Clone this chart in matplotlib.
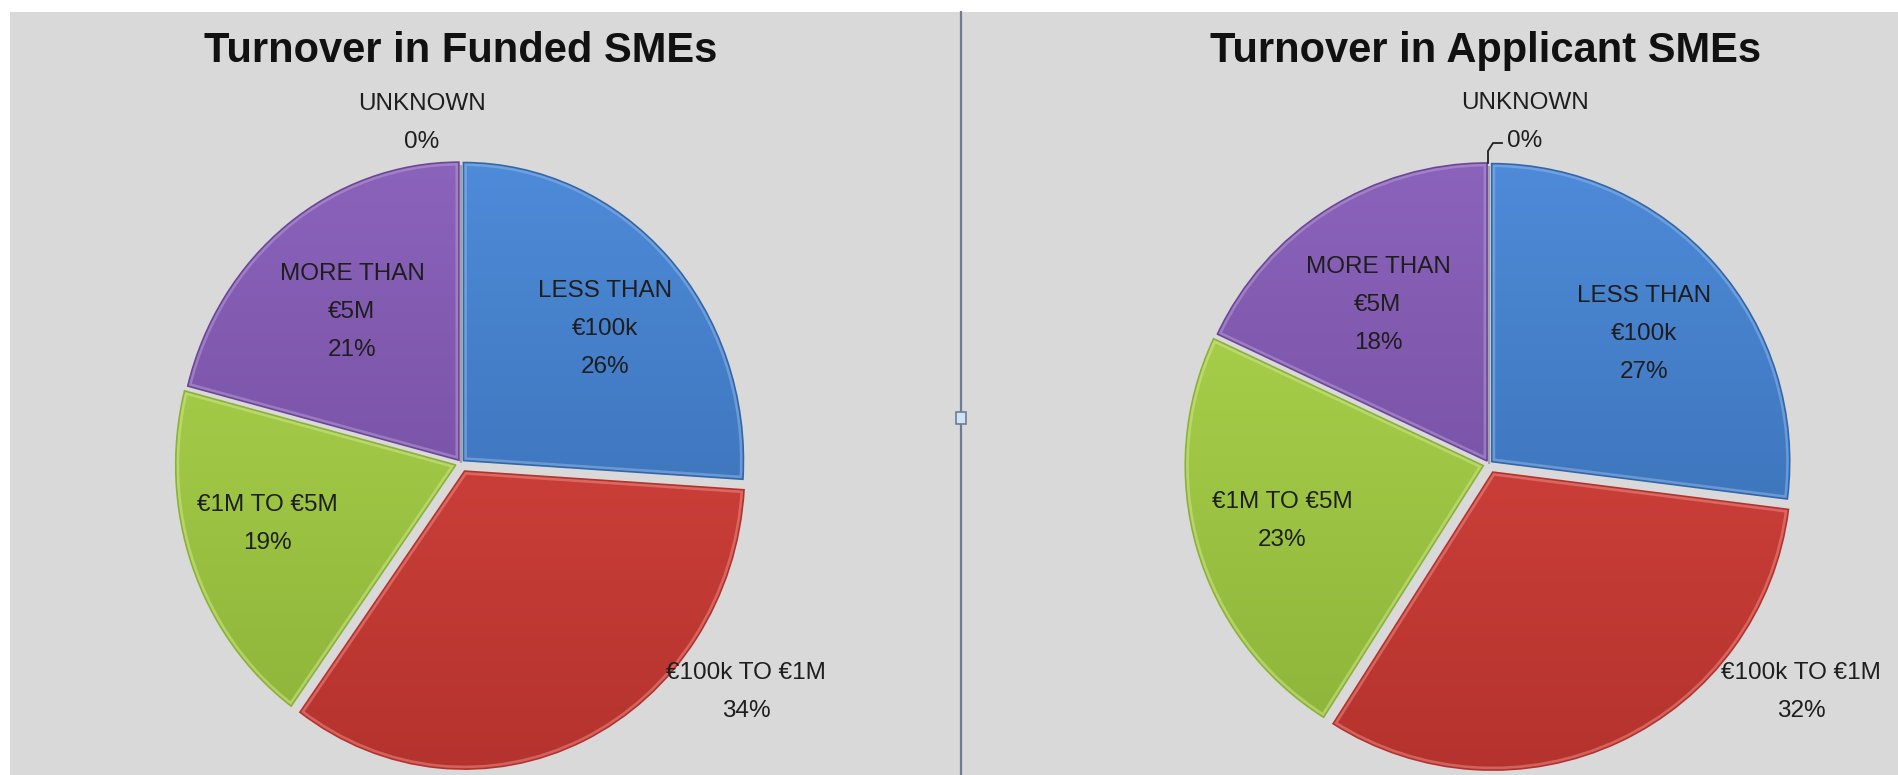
import matplotlib
matplotlib.use("Agg")
import matplotlib.pyplot as plt
from matplotlib.colors import LinearSegmentedColormap, to_rgb
from matplotlib.patches import Rectangle, PathPatch
from matplotlib.lines import Line2D
import numpy as np

# Turnover bands, clockwise from 12 o'clock
categories = ["LESS THAN\n€100k", "€100k TO €1M", "€1M TO €5M", "MORE THAN\n€5M", "UNKNOWN"]
funded_pct = [26, 34, 19, 21, 0]
applicant_pct = [27, 32, 23, 18, 0]
titles = ["Turnover in Funded SMEs", "Turnover in Applicant SMEs"]

# (top, bottom) gradient per slice
shades = [("#4f8cda", "#3266a8"),
          ("#e24b43", "#b3322d"),
          ("#b2da50", "#8bb138"),
          ("#8c64bd", "#6a4694"),
          ("#bbbbbb", "#999999")]
explode = [0.012, 0.03, 0.02, 0.012, 0.0]

W, H = 1899, 775
fig = plt.figure(figsize=(W / 100, H / 100), dpi=100)
fig.patch.set_facecolor("white")
plt.rcParams["font.family"] = ["Liberation Sans", "DejaVu Sans"]


def fx(x):
    return x / W


def fy(y):
    return 1 - y / H


def lighten(c, t):
    r = np.array(to_rgb(c))
    return tuple(r + (1 - r) * t)


# grey chart area with a thin white margin on top/left
fig.patches.append(Rectangle((fx(10), 0), 1 - fx(10), fy(12), transform=fig.transFigure,
                             facecolor="#d9d9d9", edgecolor="none", zorder=-5))

# divider between the two charts
fig.lines.append(Line2D([fx(961), fx(961)], [0, fy(12)], transform=fig.transFigure,
                        color="#6b7d95", lw=1.6, zorder=1))
fig.patches.append(Rectangle((fx(956), fy(424)), 10 / W, 12 / H, transform=fig.transFigure,
                             facecolor="#cfe3f5", edgecolor="#6b7d95", lw=1.2, zorder=2))


def pie_panel(cx, cy, rx, ry, values):
    lim = 1.3
    w, h = 2 * lim * rx, 2 * lim * ry
    ax = fig.add_axes([fx(cx - w / 2), (H - cy - h / 2) / H, w / W, h / H])
    ax.patch.set_visible(False)
    wedges, _ = ax.pie(values, startangle=90, counterclock=False, explode=explode,
                       colors=[s[0] for s in shades], radius=1.0)
    grad = np.linspace(0, 1, 256).reshape(-1, 1)
    for wd, (top, bot) in zip(wedges, shades):
        cmap = LinearSegmentedColormap.from_list("g", [bot, top])
        im = ax.imshow(grad, extent=(-1.1, 1.1, -1.1, 1.1), origin="lower",
                       cmap=cmap, aspect="auto", zorder=2)
        im.set_clip_path(wd)
        # soft bevel highlight just inside the slice outline
        hl = PathPatch(wd.get_path(), transform=wd.get_transform(), facecolor="none",
                       edgecolor=lighten(top, 0.35), lw=5, alpha=0.55, zorder=2.5)
        ax.add_patch(hl)
        hl.set_clip_path(wd)
        wd.set_facecolor("none")
        wd.set_edgecolor(bot)
        wd.set_linewidth(1.2)
        wd.set_zorder(3)
    ax.set_aspect("auto")
    ax.set_xlim(-lim, lim)
    ax.set_ylim(-lim, lim)
    ax.axis("off")
    return ax


pie_panel(461, 463, 280, 298, funded_pct)
pie_panel(1489, 464, 298, 298, applicant_pct)

# titles
fig.text(fx(461), fy(51), titles[0], ha="center", va="center",
         fontsize=30, fontweight="bold", color="#111111")
fig.text(fx(1486), fy(51), titles[1], ha="center", va="center",
         fontsize=30, fontweight="bold", color="#111111")

# slice labels: (x, y) centre of each block in pixels
label_pos = [
    [(605, 329), (746, 692), (267, 524), (352, 312), (422, 123)],
    [(1644, 334), (1801, 692), (1282, 521), (1378, 305), (1525, 122)],
]
for vals, pos in zip([funded_pct, applicant_pct], label_pos):
    for cat, v, (x, y) in zip(categories, vals, pos):
        fig.text(fx(x), fy(y), f"{cat}\n{v}%", ha="center", va="center",
                 fontsize=17.5, linespacing=1.92, color="#1e1e1e", zorder=5)

# leader from the 0% label down to the applicant pie
fig.lines.append(Line2D([fx(1502), fx(1493), fx(1488), fx(1488)],
                        [fy(143), fy(143), fy(151), fy(163)],
                        transform=fig.transFigure, color="#222222", lw=1.3, zorder=6))

fig.savefig("out.png", dpi=100)
